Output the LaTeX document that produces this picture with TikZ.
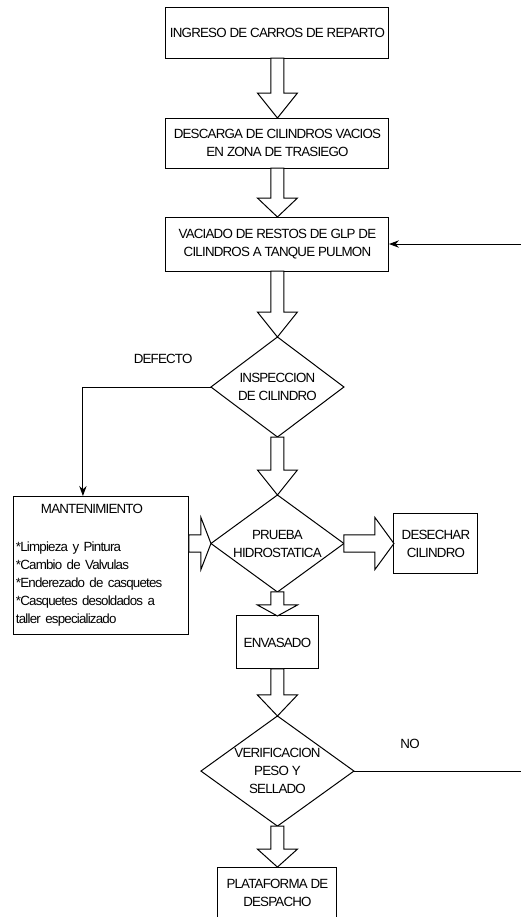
\documentclass[tikz,border=0pt]{standalone}
\usepackage{fontspec}
\setmainfont{Liberation Sans}[LetterSpace=-6]
\usetikzlibrary{shapes.geometric, arrows, arrows.meta, positioning, calc}
\tikzstyle{proc} = [rectangle, draw=black, text centered, align=center, inner sep=1.5pt, outer sep=0pt]
\tikzstyle{decision} = [diamond, draw=black, align=center, inner sep=-4pt, outer sep=0pt]
\tikzstyle{arrow} = [->,>={Stealth[length=7.5pt,width=5.5pt]}]
\tikzstyle{fat} = [draw=black, fill=white, line join=miter]
% block arrow: start, tip, head length, shaft half width, head half width
\newcommand{\fatarrow}[5]{%
  \coordinate (fa-h) at ($(#2)!#3!(#1)$);
  \draw[fat] ($(#1)!#4!90:(#2)$) -- ($(fa-h)!#4!90:(#2)$) -- ($(fa-h)!#5!90:(#2)$) -- (#2)
    -- ($(fa-h)!#5!-90:(#2)$) -- ($(fa-h)!#4!-90:(#2)$) -- ($(#1)!#4!-90:(#2)$) -- cycle;
}

\begin{document}
\begin{tikzpicture}[font=\fontsize{10pt}{13.5pt}\selectfont, line width=0.75pt]
  \useasboundingbox (-208.1pt,24.4pt) rectangle (182.6pt,-663.4pt);
  \coordinate (rim) at (182.6pt,0);

  \node (ingreso) [proc, minimum width=167.25pt, minimum height=38.25pt] {INGRESO DE CARROS DE REPARTO};
  \node (descarga) [proc, below=45pt of ingreso, minimum width=167.25pt, minimum height=37.5pt] {DESCARGA DE CILINDROS VACIOS\\EN ZONA DE TRASIEGO};
  \node (vaciado) [proc, below=36.75pt of descarga, minimum width=167.25pt, minimum height=40.5pt] {VACIADO DE RESTOS DE GLP DE\\CILINDROS A TANQUE PULMON};
  \node (inspeccion) [decision, below=49.5pt of vaciado, minimum width=99.75pt, minimum height=75pt] {INSPECCION\\DE CILINDRO};
  \node (prueba) [decision, below=43.5pt of inspeccion, minimum width=99.75pt, minimum height=72.75pt] {PRUEBA\\HIDROSTATICA};
  \node (mant) [proc, left=16.5pt of prueba, yshift=-16.5pt, text width=128.25pt, align=left, minimum height=104.25pt] {\hspace*{18.75pt}MANTENIMIENTO\\[15pt]
    {*}Limpieza y Pintura\\ {*}Cambio de Valvulas\\ {*}Enderezado de casquetes\\ {*}Casquetes desoldados a\\ taller especializado};
  \node (desechar) [proc, right=37.5pt of prueba, minimum width=63pt, minimum height=45pt] {DESECHAR\\CILINDRO};
  \node (envasado) [proc, below=18pt of prueba, minimum width=61.5pt, minimum height=39.75pt] {ENVASADO};
  \node (verif) [decision, below=35.25pt of envasado, minimum width=114.75pt, minimum height=79.5pt] {VERIFICACION\\PESO Y\\SELLADO};
  \node (plataforma) [proc, below=30.75pt of verif, minimum width=89.25pt, minimum height=38pt] {PLATAFORMA DE\\DESPACHO};

  \node (defecto) [inner sep=0pt, above left=17pt and 13.5pt of inspeccion.west] {DEFECTO};
  \node (no) [inner sep=0pt, above right=16.5pt and 34.5pt of verif.east] {NO};

  \fatarrow{ingreso.south}{descarga.north}{18.75pt}{4.9pt}{15pt}
  \fatarrow{descarga.south}{vaciado.north}{14.25pt}{4.9pt}{15pt}
  \fatarrow{vaciado.south}{inspeccion.north}{18.75pt}{4.9pt}{15pt}
  \fatarrow{inspeccion.south}{prueba.north}{18.75pt}{4.9pt}{15pt}
  \fatarrow{prueba.south}{envasado.north}{8.25pt}{4.9pt}{15pt}
  \fatarrow{envasado.south}{verif.north}{15.75pt}{4.9pt}{15pt}
  \fatarrow{verif.south}{plataforma.north}{13.5pt}{4.9pt}{15pt}
  \fatarrow{mant.east |- prueba.west}{prueba.west}{7.5pt}{6.4pt}{19.5pt}
  \fatarrow{prueba.east}{desechar.west}{14.25pt}{6.4pt}{19.5pt}

  \draw [arrow] (vaciado.east -| rim) -- (vaciado.east);
  \draw [arrow] (inspeccion.west) -| ([xshift=-13.9pt]mant.north);
  \draw (verif.east) -- (verif.east -| rim);

\end{tikzpicture}
\end{document}
